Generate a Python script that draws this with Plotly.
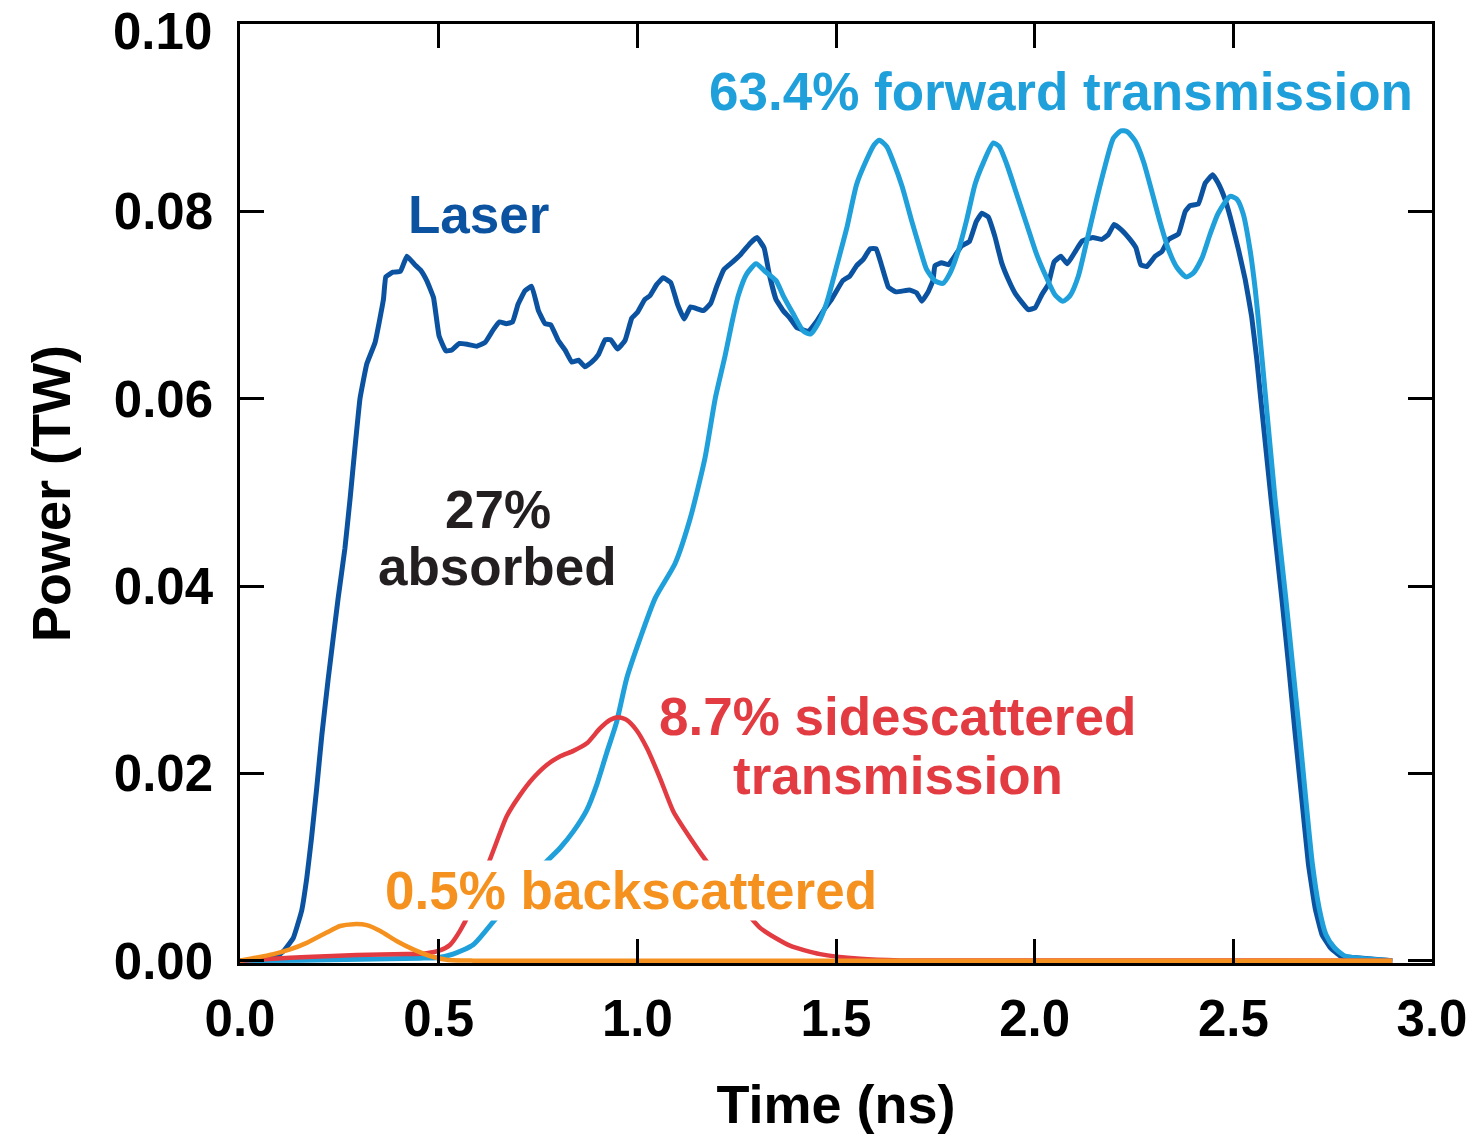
import plotly.graph_objects as go

# ---------------- data (time in ns, power in TW) ----------------
laser_t = [0.000, 0.050, 0.088, 0.109, 0.134, 0.155, 0.168, 0.180, 0.193, 0.206, 0.222, 0.247, 0.264, 0.277,
           0.289, 0.302, 0.319, 0.340, 0.361, 0.367, 0.385, 0.404, 0.420, 0.440, 0.455, 0.470, 0.487, 0.501,
           0.518, 0.533, 0.552, 0.572, 0.596, 0.617, 0.638, 0.653, 0.670, 0.686, 0.700, 0.717, 0.734, 0.751,
           0.768, 0.782, 0.801, 0.818, 0.835, 0.852, 0.868, 0.885, 0.902, 0.919, 0.933, 0.950, 0.969, 0.986,
           1.000, 1.019, 1.032, 1.049, 1.065, 1.084, 1.101, 1.118, 1.134, 1.166, 1.185, 1.200, 1.218, 1.240,
           1.260, 1.284, 1.301, 1.319, 1.332, 1.349, 1.367, 1.384, 1.401, 1.430, 1.452, 1.473, 1.489, 1.517,
           1.535, 1.552, 1.569, 1.586, 1.601, 1.615, 1.632, 1.651, 1.685, 1.703, 1.716, 1.732, 1.744, 1.749,
           1.766, 1.783, 1.800, 1.816, 1.836, 1.853, 1.867, 1.883, 1.900, 1.917, 1.934, 1.953, 1.984, 2.001,
           2.018, 2.034, 2.049, 2.066, 2.082, 2.102, 2.119, 2.146, 2.169, 2.185, 2.200, 2.219, 2.240, 2.255,
           2.267, 2.282, 2.303, 2.320, 2.337, 2.362, 2.379, 2.391, 2.412, 2.429, 2.448, 2.462, 2.479, 2.496,
           2.513, 2.530, 2.546, 2.559, 2.569, 2.595, 2.622, 2.639, 2.655, 2.672, 2.689, 2.706, 2.723, 2.744,
           2.769, 2.811, 2.900]
laser_p = [0.0000, 0.00005, 0.0003, 0.0010, 0.0024, 0.0053, 0.0088, 0.0131, 0.0184, 0.0241, 0.0301, 0.0387,
           0.0440, 0.0493, 0.0546, 0.0600, 0.0637, 0.0660, 0.0706, 0.0730, 0.0735, 0.0736, 0.0752, 0.0743,
           0.0737, 0.0726, 0.0708, 0.0667, 0.0651, 0.0652, 0.0659, 0.0658, 0.0656, 0.0660, 0.0674, 0.0682,
           0.0680, 0.0682, 0.0701, 0.0715, 0.0720, 0.0694, 0.0680, 0.0679, 0.0662, 0.0652, 0.0639, 0.0641,
           0.0634, 0.0639, 0.0647, 0.0663, 0.0663, 0.0653, 0.0662, 0.0686, 0.0692, 0.0706, 0.0710, 0.0722,
           0.0729, 0.0724, 0.0701, 0.0685, 0.0698, 0.0694, 0.0702, 0.0720, 0.0738, 0.0746, 0.0754, 0.0766,
           0.0772, 0.0761, 0.0733, 0.0706, 0.0694, 0.0686, 0.0676, 0.0672, 0.0683, 0.0697, 0.0706, 0.0726,
           0.0731, 0.0742, 0.0749, 0.0760, 0.0760, 0.0742, 0.0719, 0.0714, 0.0716, 0.0713, 0.0704, 0.0714,
           0.0726, 0.0742, 0.0745, 0.0743, 0.0753, 0.0763, 0.0768, 0.0789, 0.0798, 0.0794, 0.0773, 0.0745,
           0.0727, 0.0711, 0.0695, 0.0697, 0.0711, 0.0722, 0.0746, 0.0752, 0.0744, 0.0757, 0.0768, 0.0772,
           0.0770, 0.0775, 0.0786, 0.0780, 0.0770, 0.0761, 0.0743, 0.0741, 0.0752, 0.0757, 0.0770, 0.0776,
           0.0800, 0.0806, 0.0808, 0.0830, 0.0839, 0.0830, 0.0813, 0.0788, 0.0759, 0.0727, 0.0688, 0.0642,
           0.0600, 0.0493, 0.0387, 0.0316, 0.0245, 0.0174, 0.0103, 0.0056, 0.0028, 0.0014, 0.0005, 0.0003,
           0.0000]

forward_t = [0.000, 0.151, 0.302, 0.453, 0.495, 0.536, 0.587, 0.638, 0.687, 0.755, 0.805, 0.839, 0.873, 0.898,
             0.923, 0.948, 0.973, 1.007, 1.045, 1.095, 1.133, 1.170, 1.196, 1.221, 1.238, 1.254, 1.275, 1.299,
             1.321, 1.349, 1.367, 1.393, 1.418, 1.436, 1.456, 1.477, 1.502, 1.527, 1.552, 1.577, 1.596, 1.609,
             1.628, 1.644, 1.666, 1.691, 1.712, 1.728, 1.749, 1.769, 1.787, 1.808, 1.829, 1.850, 1.871, 1.896,
             1.911, 1.930, 1.955, 1.980, 2.005, 2.030, 2.051, 2.071, 2.089, 2.110, 2.131, 2.156, 2.177, 2.198,
             2.217, 2.233, 2.253, 2.274, 2.295, 2.316, 2.337, 2.358, 2.381, 2.399, 2.421, 2.441, 2.462, 2.492,
             2.509, 2.525, 2.542, 2.555, 2.566, 2.580, 2.605, 2.632, 2.649, 2.666, 2.682, 2.699, 2.716, 2.733,
             2.754, 2.781, 2.832, 2.900]
forward_p = [0.0000, 0.00005, 0.00015, 0.00027, 0.0003, 0.0007, 0.0017, 0.0042, 0.0067, 0.0099, 0.0120, 0.0138,
             0.0161, 0.0188, 0.0222, 0.0255, 0.0301, 0.0344, 0.0387, 0.0424, 0.0472, 0.0536, 0.0600, 0.0646,
             0.0681, 0.0710, 0.0733, 0.0744, 0.0736, 0.0726, 0.0710, 0.0690, 0.0672, 0.0669, 0.0681, 0.0703,
             0.0742, 0.0782, 0.0829, 0.0855, 0.0871, 0.0876, 0.0869, 0.0853, 0.0827, 0.0789, 0.0759, 0.0738,
             0.0726, 0.0723, 0.0734, 0.0758, 0.0791, 0.0829, 0.0852, 0.0873, 0.0869, 0.0850, 0.0818, 0.0786,
             0.0754, 0.0729, 0.0711, 0.0704, 0.0710, 0.0731, 0.0768, 0.0813, 0.0848, 0.0878, 0.0886, 0.0885,
             0.0875, 0.0853, 0.0821, 0.0788, 0.0759, 0.0740, 0.0730, 0.0734, 0.0750, 0.0775, 0.0798, 0.0816,
             0.0813, 0.0797, 0.0759, 0.0717, 0.0671, 0.0607, 0.0493, 0.0387, 0.0316, 0.0245, 0.0174, 0.0103,
             0.0056, 0.0028, 0.0014, 0.0005, 0.0002, 0.0000]

side_t = [0.000, 0.083, 0.168, 0.294, 0.420, 0.470, 0.503, 0.529, 0.554, 0.579, 0.599, 0.621, 0.646, 0.671,
          0.705, 0.738, 0.772, 0.805, 0.839, 0.873, 0.906, 0.931, 0.952, 0.973, 0.998, 1.024, 1.057, 1.091,
          1.133, 1.183, 1.208, 1.246, 1.309, 1.384, 1.460, 1.561, 1.661, 2.900]
side_p = [0.0000, 0.0002, 0.0004, 0.0006, 0.0007, 0.0008, 0.0011, 0.0017, 0.0032, 0.0053, 0.0076, 0.0099,
          0.0127, 0.0154, 0.0177, 0.0195, 0.0209, 0.0218, 0.0224, 0.0232, 0.0248, 0.0257, 0.0260, 0.0257,
          0.0246, 0.0227, 0.0195, 0.0159, 0.0131, 0.0101, 0.0088, 0.0067, 0.0035, 0.0016, 0.0007, 0.0002,
          0.00003, 0.0000]

back_t = [0.000, 0.084, 0.126, 0.168, 0.218, 0.252, 0.285, 0.319, 0.352, 0.394, 0.436, 0.478, 0.520, 0.587, 2.900]
back_p = [0.0000, 0.0007, 0.0012, 0.0019, 0.0030, 0.0037, 0.0039, 0.0038, 0.0032, 0.0021, 0.0012, 0.0005,
          0.0001, 0.0000, 0.0000]

x_ticks = [0.0, 0.5, 1.0, 1.5, 2.0, 2.5, 3.0]
y_ticks = [0.00, 0.02, 0.04, 0.06, 0.08, 0.10]

# ---------------- style ----------------
C_LASER = "#0b53a1"
C_FWD = "#1fa0db"
C_SIDE = "#e23b41"
C_BACK = "#f5921f"
C_TEXT = "#231f20"
FONT = "Liberation Sans, Arial, sans-serif"
FS_ANN = 53
FS_TICK = 51
FS_TITLE = 54

fig = go.Figure()
fig.add_trace(go.Scatter(x=laser_t, y=laser_p, mode="lines",
                         line=dict(color=C_LASER, width=5, shape="spline", smoothing=0.3), name="Laser"))
fig.add_trace(go.Scatter(x=forward_t, y=forward_p, mode="lines",
                         line=dict(color=C_FWD, width=5, shape="spline", smoothing=0.6), name="Forward"))
fig.add_trace(go.Scatter(x=side_t, y=side_p, mode="lines",
                         line=dict(color=C_SIDE, width=4.5, shape="spline", smoothing=0.6), name="Side"))
fig.add_trace(go.Scatter(x=back_t, y=back_p, mode="lines",
                         line=dict(color=C_BACK, width=4.5, shape="spline", smoothing=0.6), name="Back"))

annots = [
    ("Laser", 0.599, 0.0797, C_LASER, None),
    ("63.4% forward transmission", 2.066, 0.0928, C_FWD, None),
    ("27%", 0.649, 0.0482, C_TEXT, None),
    ("absorbed", 0.649, 0.0421, C_TEXT, None),
    ("8.7% sidescattered", 1.656, 0.0261, C_SIDE, None),
    ("transmission", 1.656, 0.0198, C_SIDE, None),
    ("0.5% backscattered", 0.984, 0.00745, C_BACK, "white"),
]
for txt, ax_, ay_, col, bg in annots:
    fig.add_annotation(x=ax_, y=ay_, xref="x", yref="y", text="<b>%s</b>" % txt, showarrow=False,
                       font=dict(family=FONT, size=FS_ANN, color=col), xanchor="center", yanchor="middle",
                       bgcolor=bg if bg else "rgba(0,0,0,0)", borderpad=0)

# the topmost y tick label sits slightly lower (as in the reference) so it stays inside the page
y_ticktext = ["<b>%.2f</b>" % v for v in y_ticks[:-1]] + [""]
fig.add_annotation(x=0, xref="paper", y=y_ticks[-1], yref="y", text="<b>%.2f</b>" % y_ticks[-1],
                   showarrow=False, xanchor="right", yanchor="middle", xshift=-27, yshift=-7,
                   font=dict(family=FONT, size=FS_TICK, color="black"), borderpad=0)

axis_common = dict(showline=True, linecolor="black", linewidth=2.5, mirror="ticks", ticks="inside",
                   ticklen=24, tickwidth=2.5, tickcolor="black", showgrid=False, zeroline=False,
                   ticklabeloverflow="allow", automargin=False,
                   tickfont=dict(family=FONT, size=FS_TICK, color="black"))

fig.update_layout(
    width=1473, height=1140,
    margin=dict(l=240, r=41, t=24, b=177),
    paper_bgcolor="white", plot_bgcolor="white",
    showlegend=False,
    font=dict(family=FONT, size=FS_TICK, color="black"),
    xaxis=dict(range=[0, 3.0], tickvals=x_ticks, ticktext=["<b>%.1f</b>" % v for v in x_ticks],
               title=dict(text="<b>Time (ns)</b>", font=dict(family=FONT, size=FS_TITLE, color="black"),
                          standoff=40),
               ticklabelstandoff=9, **axis_common),
    yaxis=dict(range=[-0.00025, 0.1], tickvals=y_ticks, ticktext=y_ticktext,
               title=dict(text="<b>Power (TW)</b>", font=dict(family=FONT, size=FS_TITLE, color="black"),
                          standoff=26),
               ticklabelstandoff=14, **axis_common),
)

fig.write_html("out.html")
